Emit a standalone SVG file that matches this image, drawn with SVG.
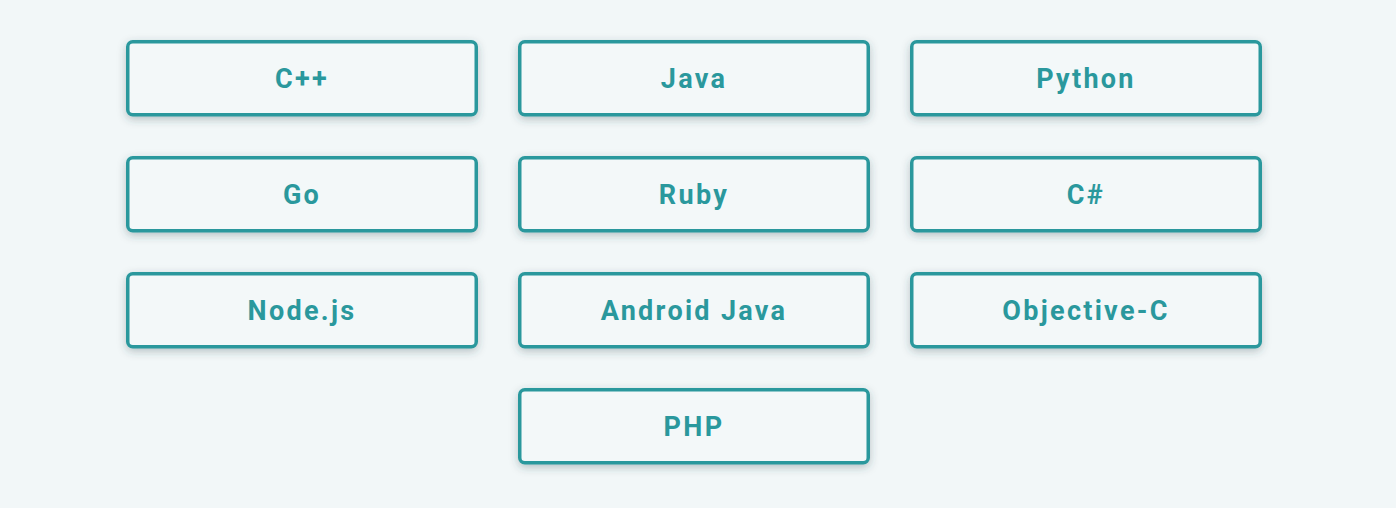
<svg xmlns="http://www.w3.org/2000/svg" width="1396" height="508" viewBox="0 0 1396 508">
<defs>
<filter id="sh" x="-10%" y="-30%" width="120%" height="170%">
<feDropShadow dx="0" dy="3" stdDeviation="4" flood-color="#2a4a50" flood-opacity="0.3"/>
</filter>
<style>
.box{fill:#f3f8f9;stroke:#2a989d;stroke-width:3.5;filter:url(#sh)}
.lbl{font-family:Roboto,"Liberation Sans",sans-serif;font-weight:700;font-size:27px;letter-spacing:2.3px;fill:#2a989d;text-anchor:middle}
</style>
</defs>
<rect width="1396" height="508" fill="#f2f7f8"/>
<g id="connectors"></g>
<g id="n-cpp"><rect class="box" x="127.75" y="41.75" width="348.5" height="73" rx="5"/><text class="lbl" x="302" y="87.5">C++</text></g>
<g id="n-java"><rect class="box" x="519.75" y="41.75" width="348.5" height="73" rx="5"/><text class="lbl" x="694" y="87.5">Java</text></g>
<g id="n-python"><rect class="box" x="911.75" y="41.75" width="348.5" height="73" rx="5"/><text class="lbl" x="1086" y="87.5">Python</text></g>
<g id="n-go"><rect class="box" x="127.75" y="157.75" width="348.5" height="73" rx="5"/><text class="lbl" x="302" y="203.5">Go</text></g>
<g id="n-ruby"><rect class="box" x="519.75" y="157.75" width="348.5" height="73" rx="5"/><text class="lbl" x="694" y="203.5">Ruby</text></g>
<g id="n-csharp"><rect class="box" x="911.75" y="157.75" width="348.5" height="73" rx="5"/><text class="lbl" x="1086" y="203.5">C#</text></g>
<g id="n-node"><rect class="box" x="127.75" y="273.75" width="348.5" height="73" rx="5"/><text class="lbl" x="302" y="319.5">Node.js</text></g>
<g id="n-android"><rect class="box" x="519.75" y="273.75" width="348.5" height="73" rx="5"/><text class="lbl" x="694" y="319.5">Android Java</text></g>
<g id="n-objc"><rect class="box" x="911.75" y="273.75" width="348.5" height="73" rx="5"/><text class="lbl" x="1086" y="319.5">Objective-C</text></g>
<g id="n-php"><rect class="box" x="519.75" y="389.75" width="348.5" height="73" rx="5"/><text class="lbl" x="694" y="435.5">PHP</text></g>
</svg>
